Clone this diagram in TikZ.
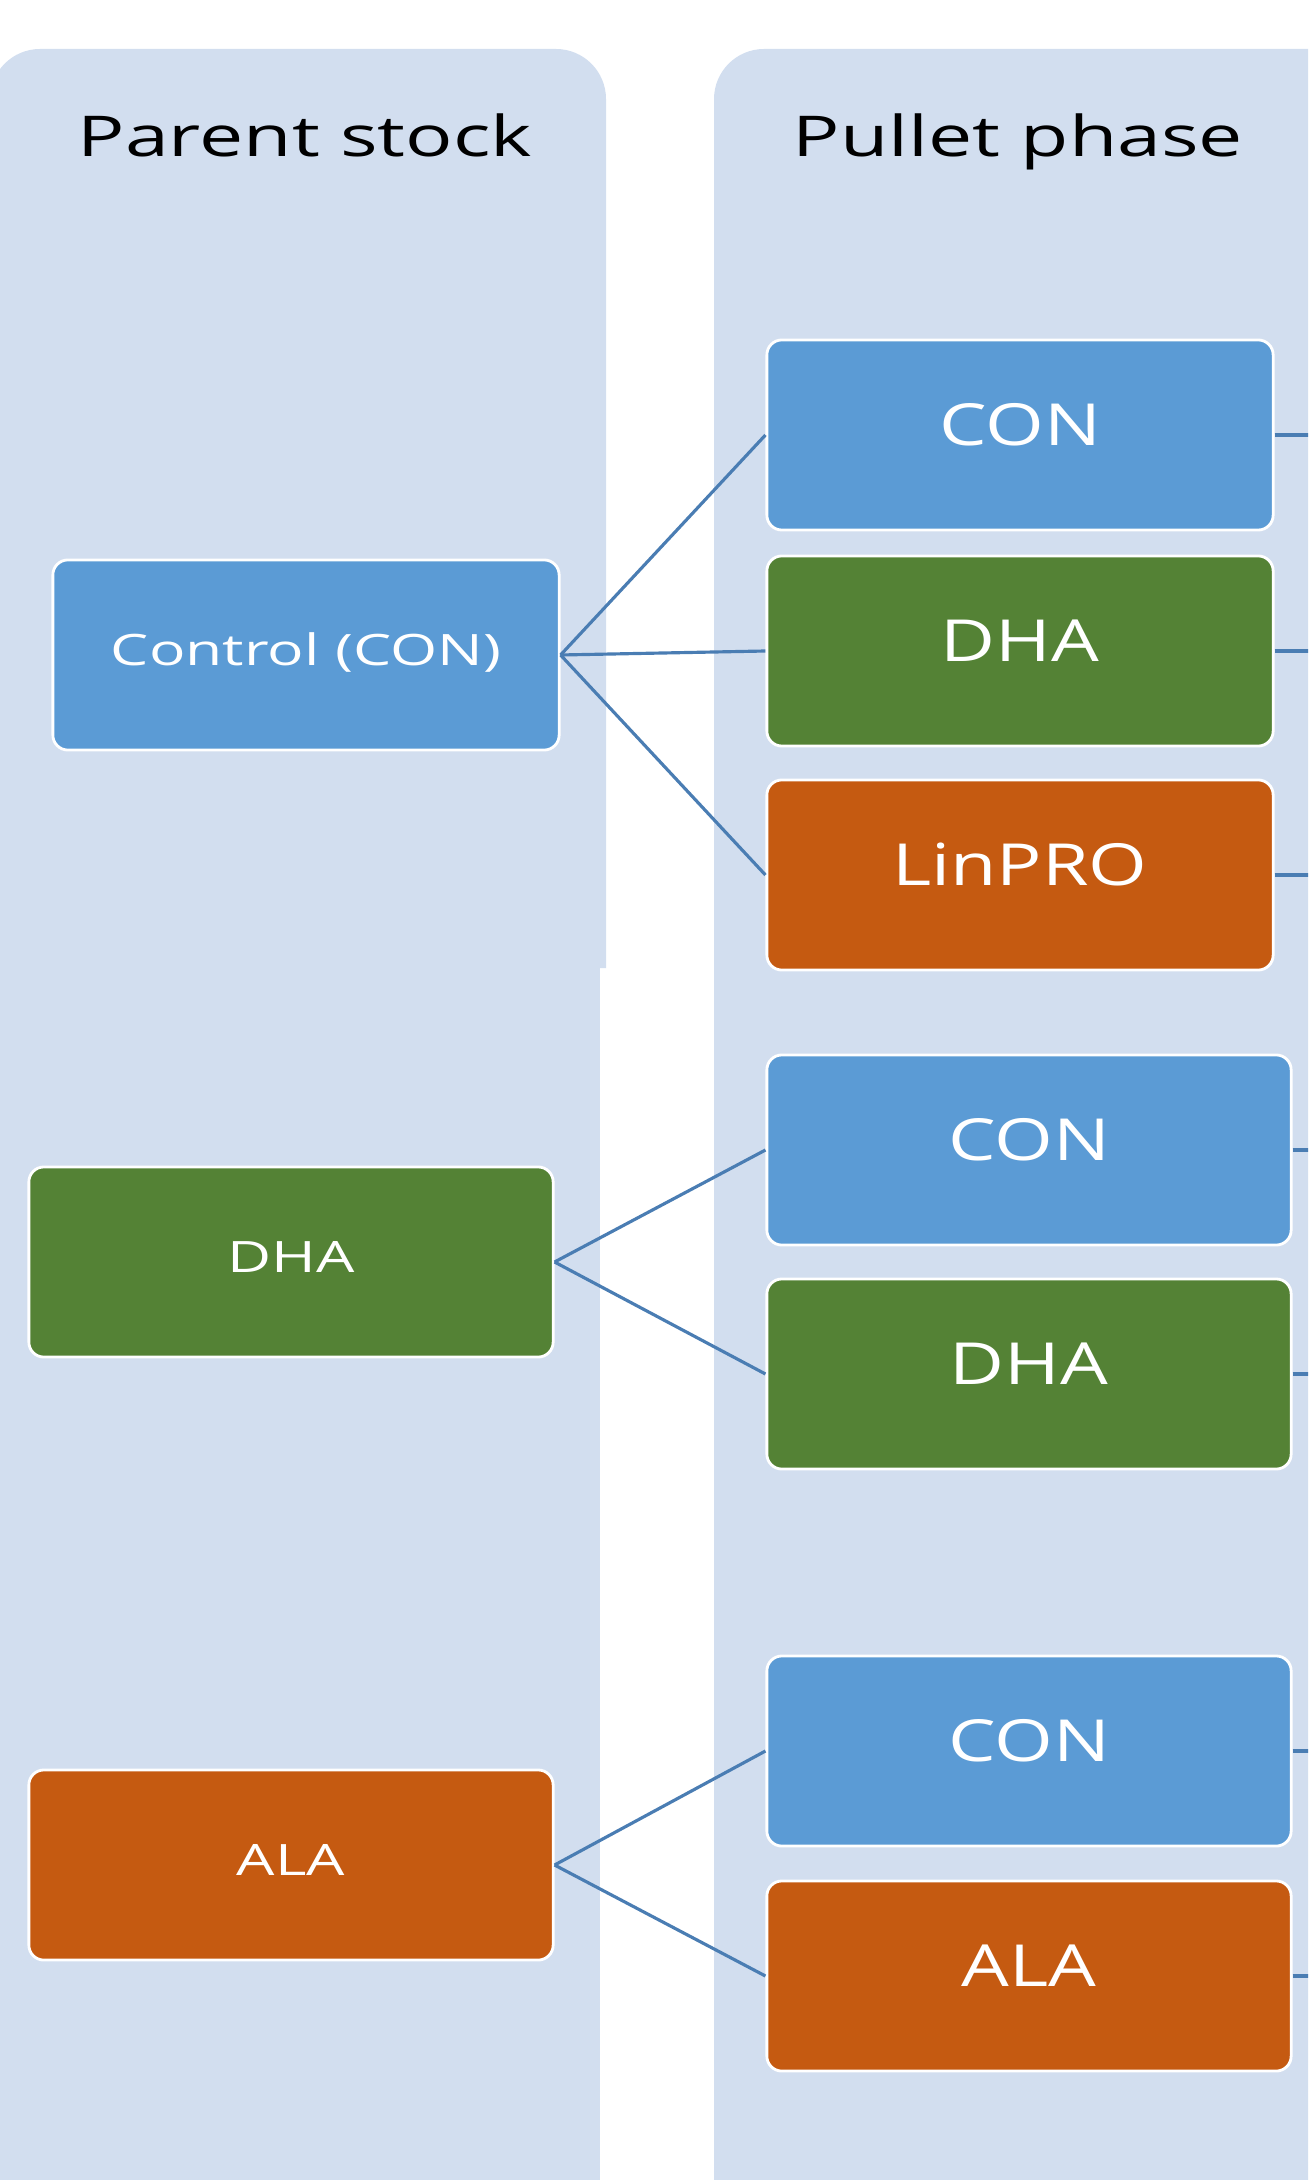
\documentclass[tikz,border=0pt]{standalone}
\usepackage{fontspec}
\setmainfont{Open Sans}[FakeStretch=1.4]
\newfontfamily\pulletfont{Open Sans}[FakeStretch=1.3]
\definecolor{panelblue}{HTML}{D2DEEF}
\definecolor{conblue}{HTML}{5B9BD5}
\definecolor{dhagreen}{HTML}{548235}
\definecolor{alaorange}{HTML}{C55A11}
\definecolor{linkblue}{HTML}{4A7DB3}
\tikzset{
  panel/.style = {fill = panelblue, rounded corners = 0.5cm},
  title/.style = {anchor = base, inner sep = 0pt, font = \fontsize{16}{19}\selectfont},
  box/.style = {draw = white, line width = 0.8pt, rounded corners = 0.15cm, text = white, inner sep = 0pt, minimum height = 1.9cm, text height = 0.714em, text depth = 0.14em},
  parentbox/.style = {box, font = \fontsize{12.3}{14}\selectfont},
  pulletbox/.style = {box, font = \pulletfont\fontsize{16.5}{20}\selectfont},
  link/.style = {draw = linkblue, line width = 0.9pt}
}
\begin{document}
\begin{tikzpicture}[x = 0.01cm, y = -0.01cm]
\useasboundingbox (0,0) rectangle (1308,2180);
\clip (0,0) rectangle (1308,2180);
\fill[panelblue] (-10,968) [rounded corners = 0.5cm] -- (-10,49) -- (606,49) [sharp corners] -- (606,968) -- cycle;
\fill[panelblue] (-10,960) rectangle (600,2200);
\fill[panel] (714,2250) -- (714,49) -- (1400,49) -- (1400,2250) -- cycle;
\node[title] (parenttitle) at (305,157) {Parent stock};
\node[title] (pullettitle) at (1018,157) {Pullet phase};
\node[parentbox, fill = conblue, minimum width = 5.06cm] (ctl) at (306,655) {Control (CON)};
\node[parentbox, fill = dhagreen, minimum width = 5.24cm] (dha) at (291,1262) {DHA};
\node[parentbox, fill = alaorange, minimum width = 5.24cm] (ala) at (291,1865) {ALA};
\node[pulletbox, fill = conblue, minimum width = 5.06cm] (ctlcon) at (1020,435) {CON};
\node[pulletbox, fill = dhagreen, minimum width = 5.06cm] (ctldha) at (1020,651) {DHA};
\node[pulletbox, fill = alaorange, minimum width = 5.06cm] (ctllin) at (1020,875) {LinPRO};
\node[pulletbox, fill = conblue, minimum width = 5.24cm] (dhacon) at (1029,1150) {CON};
\node[pulletbox, fill = dhagreen, minimum width = 5.24cm] (dhadha) at (1029,1374) {DHA};
\node[pulletbox, fill = conblue, minimum width = 5.24cm] (alacon) at (1029,1751) {CON};
\node[pulletbox, fill = alaorange, minimum width = 5.24cm] (alaala) at (1029,1976) {ALA};
\coordinate (rim) at (1330,0);
\foreach \a/\b in {ctl/ctlcon, ctl/ctldha, ctl/ctllin, dha/dhacon, dha/dhadha, ala/alacon, ala/alaala}
  \draw[link] (\a.east) -- (\b.west);
\foreach \b in {ctlcon, ctldha, ctllin, dhacon, dhadha, alacon, alaala}
  \draw[link] (\b.east) -- (\b.east -| rim);
\end{tikzpicture}
\end{document}
